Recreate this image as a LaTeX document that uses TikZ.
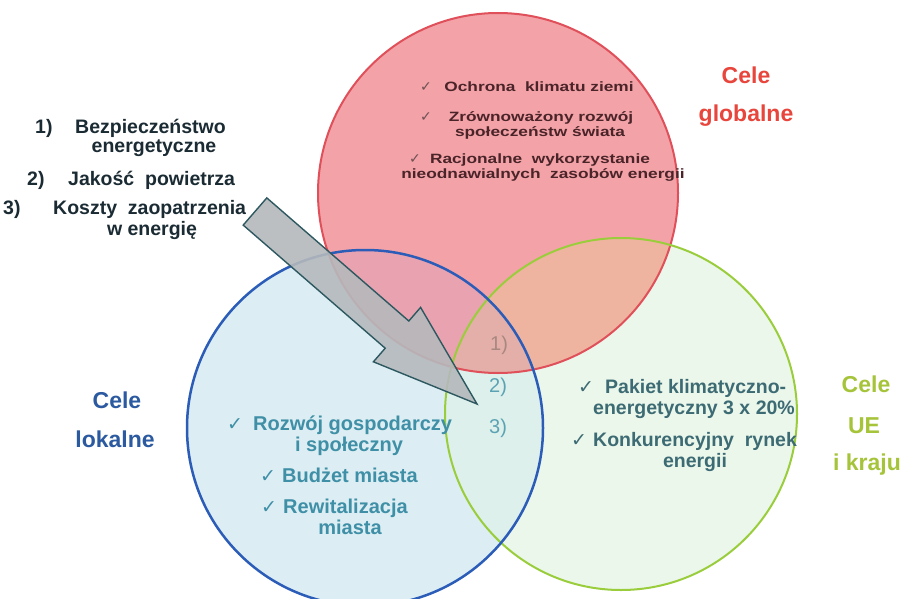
\documentclass[tikz,border=0pt]{standalone}
\usepackage{fontspec}
\usepackage{graphicx}
\setmainfont{Liberation Sans}
\newfontfamily\symfont{DejaVu Sans}
\definecolor{redfill}{HTML}{F3A3A8}
\definecolor{bluefill}{HTML}{DCEEF4}
\definecolor{greenfill}{HTML}{ECF7EC}
\definecolor{bgfill}{HTML}{DDF0EC}
\definecolor{rbfill}{HTML}{E9A3B0}
\definecolor{rgfill}{HTML}{EFB49F}
\definecolor{rbgfill}{HTML}{E4AFA8}
\definecolor{redline}{HTML}{E0505A}
\definecolor{blueline}{HTML}{2B5CB8}
\definecolor{greenline}{HTML}{9ACD3C}
\definecolor{listcol}{HTML}{1B2B33}
\definecolor{redlab}{HTML}{E8453C}
\definecolor{bluelab}{HTML}{2C5AA0}
\definecolor{greenlab}{HTML}{A5C43A}
\definecolor{redtxt}{HTML}{4A2428}
\definecolor{bluetxt}{HTML}{3F8FA6}
\definecolor{greentxt}{HTML}{3D6B74}
\definecolor{numcol}{HTML}{5BA3B3}
\definecolor{numcolA}{HTML}{A88880}
\definecolor{arrowfill}{HTML}{B5B9BC}
\definecolor{arrowline}{HTML}{2D5860}
\newcommand\wx[1]{\scalebox{1.28}[1]{#1}}
\newcommand\ck{{\symfont\bfseries\fontsize{19}{19}\selectfont ✓}}
\newcommand\cks{{\symfont\bfseries\fontsize{14}{14}\selectfont ✓}}
\begin{document}
\begin{tikzpicture}[x=1pt,y=-1pt,
  txt/.style={inner sep=0pt, anchor=base},
  listtxt/.style={txt, text=listcol, font=\bfseries\fontsize{19.5}{21}\selectfont},
  labred/.style={txt, text=redlab, font=\bfseries\fontsize{23}{25}\selectfont},
  labblue/.style={txt, text=bluelab, font=\bfseries\fontsize{23}{25}\selectfont},
  labgreen/.style={txt, text=greenlab, font=\bfseries\fontsize{23}{25}\selectfont},
  redt/.style={txt, text=redtxt, font=\bfseries\fontsize{13.5}{15}\selectfont},
  bluet/.style={txt, text=bluetxt, font=\bfseries\fontsize{20}{22}\selectfont},
  greent/.style={txt, text=greentxt, font=\bfseries\fontsize{19.5}{21}\selectfont},
  numt/.style={txt, anchor=base west, text=numcol, font=\fontsize{20}{22}\selectfont},
  ckred/.style={txt, text=redtxt!80},
  ckblue/.style={txt, text=bluetxt},
  ckgreen/.style={txt, text=greentxt}]
\useasboundingbox (0,0) rectangle (907,599);
\fill[white] (0,0) rectangle (907,599);
\coordinate (rc) at (498,193);
\coordinate (bc) at (365,428);
\coordinate (gc) at (621,414);
% fills
\fill[bluefill] (bc) circle[radius=178pt];
\fill[greenfill] (gc) circle[radius=176pt];
\begin{scope}
  \clip (bc) circle[radius=178pt];
  \fill[bgfill] (gc) circle[radius=176pt];
\end{scope}
\fill[redfill] (rc) circle[radius=180pt];
\begin{scope}
  \clip (rc) circle[radius=180pt];
  \fill[rbfill] (bc) circle[radius=178pt];
  \fill[rgfill] (gc) circle[radius=176pt];
  \clip (bc) circle[radius=178pt];
  \fill[rbgfill] (gc) circle[radius=176pt];
\end{scope}
% borders
\draw[redline, line width=2pt] (rc) circle[radius=180pt];
\draw[greenline, line width=2pt] (gc) circle[radius=176pt];
\draw[blueline, line width=2.5pt] (bc) circle[radius=178pt];
% overlap numbers
\node[numt, text=numcolA] (n1) at (490,350) {1)};
\node[numt] (n2) at (489,392) {2)};
\node[numt] (n3) at (489,433) {3)};
% arrow
\coordinate (a1) at (266.8,197.9);
\coordinate (a2) at (408.8,321.0);
\coordinate (a3) at (420.6,307.4);
\coordinate (a4) at (477,404);
\coordinate (a5) at (373.4,361.8);
\coordinate (a6) at (385.2,348.2);
\coordinate (a7) at (243.2,225.1);
\draw[fill=arrowfill, fill opacity=0.9, draw=arrowline, line width=1.4pt, line join=miter]
  (a1) -- (a2) -- (a3) -- (a4) -- (a5) -- (a6) -- (a7) -- cycle;
% left list
\node[listtxt, anchor=base west] (l1n) at (35,133) {1)};
\node[listtxt, anchor=base west] (l1) at (75,133) {Bezpieczeństwo};
\node[listtxt] (l1b) at (154,153) {energetyczne};
\node[listtxt, anchor=base west] (l2n) at (27,185) {2)};
\node[listtxt, anchor=base west] (l2) at (68,185) {Jakość\ \ powietrza};
\node[listtxt, anchor=base west] (l3n) at (3,214) {3)};
\node[listtxt, anchor=base west] (l3) at (53,214) {Koszty\ \ zaopatrzenia};
\node[listtxt] (l3b) at (152,235) {w energię};
% labels
\node[labred] (rl1) at (746,84) {Cele};
\node[labred] (rl2) at (746,122) {globalne};
\node[labblue] (bl1) at (117,408) {Cele};
\node[labblue] (bl2) at (115,447) {lokalne};
\node[labgreen] (gl1) at (866,392) {Cele};
\node[labgreen] (gl2) at (864,433) {UE};
\node[labgreen] (gl3) at (867,470) {i kraju};
% red circle texts
\node[ckred] (rk1) at (426,92) {\cks};
\node[redt] (r1) at (539,92) {\wx{Ochrona\ \ klimatu ziemi}};
\node[ckred] (rk2) at (426,122) {\cks};
\node[redt] (r2) at (541,122) {\wx{Zrównoważony rozwój}};
\node[redt] (r2b) at (540,136) {\wx{społeczeństw świata}};
\node[ckred] (rk3) at (415,163) {\cks};
\node[redt] (r3) at (540,163) {\wx{Racjonalne\ \ wykorzystanie}};
\node[redt] (r3b) at (543,178) {\wx{nieodnawialnych\ \ zasobów energii}};
% blue circle texts
\node[ckblue] (bk1) at (235,430) {\ck};
\node[bluet, anchor=base west] (b1) at (253,430) {Rozwój gospodarczy};
\node[bluet] (b1b) at (349,451) {i społeczny};
\node[ckblue] (bk2) at (268,482) {\ck};
\node[bluet, anchor=base west] (b2) at (282,482) {Budżet miasta};
\node[ckblue] (bk3) at (269,513) {\ck};
\node[bluet, anchor=base west] (b3) at (283,513) {Rewitalizacja};
\node[bluet] (b3b) at (350,534) {miasta};
% green circle texts
\node[ckgreen] (gk1) at (586,393) {\ck};
\node[greent, anchor=base west] (g1) at (605,393) {Pakiet klimatyczno-};
\node[greent] (g1b) at (694,414) {energetyczny 3 x 20\%};
\node[ckgreen] (gk2) at (579,446) {\ck};
\node[greent, anchor=base west] (g2) at (593,446) {Konkurencyjny\ \ rynek};
\node[greent] (g2b) at (695,467) {energii};
\end{tikzpicture}
\end{document}
